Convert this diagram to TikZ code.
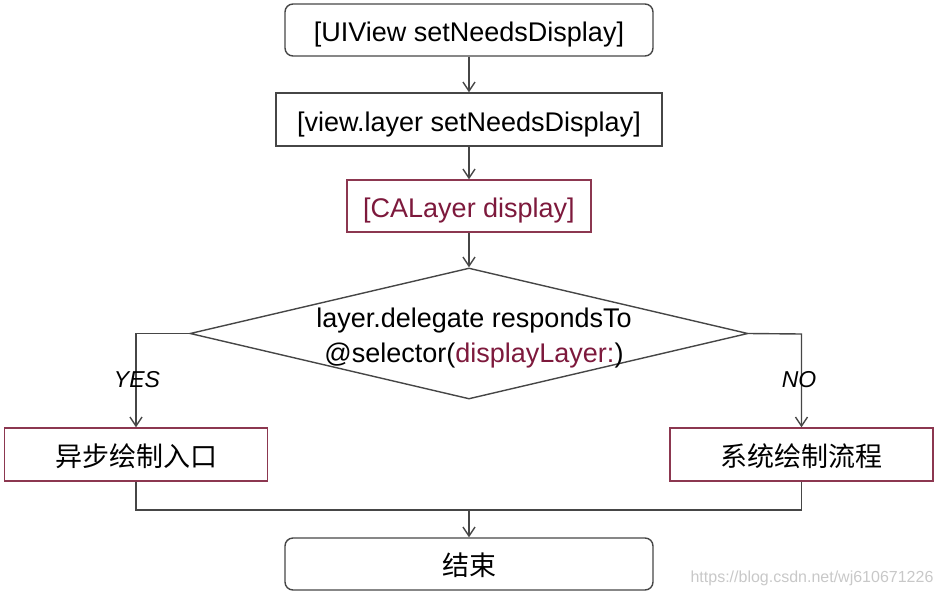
\documentclass[tikz,border=0pt]{standalone}
\usepackage{fontspec}
\setmainfont{Liberation Sans}
\newfontfamily\cjk{Noto Sans CJK SC}
\usetikzlibrary{arrows.meta,shapes.geometric}
\definecolor{linegray}{RGB}{70,70,70}
\definecolor{maroon}{RGB}{125,25,60}
\definecolor{redborder}{RGB}{140,55,80}
\definecolor{wmgray}{RGB}{200,200,200}
\tikzset{
  box/.style={draw=linegray, line width=1.4pt, minimum height=52pt, inner sep=0pt, text height=25pt, text depth=2pt, font=\fontsize{27}{30}\selectfont, text=black},
  roundbox/.style={box, rounded corners=8pt},
  redbox/.style={box, draw=redborder},
  conn/.style={draw=linegray, line width=1.4pt},
  arr/.style={conn, -{Straight Barb[length=9pt,width=12pt,line width=1.4pt]}},
  lbl/.style={font=\fontsize{23}{26}\selectfont\itshape, text=black}
}
\begin{document}
\begin{tikzpicture}[x=1pt,y=-1pt]
\useasboundingbox (0,0) rectangle (942,595);
\node[roundbox, minimum width=368pt] (b1) at (469,30) {[UIView setNeedsDisplay]};
\node[box, minimum width=386pt, minimum height=53pt] (b2) at (469,119.5) {[view.layer setNeedsDisplay]};
\node[redbox, minimum width=244pt, text=maroon] (b3) at (469,206) {[CALayer display]};
\node[draw=linegray, line width=1.4pt, shape=diamond, aspect=4.26, minimum width=558pt, minimum height=131pt, inner sep=0pt] (d) at (469,333.5) {};
\node[align=center, font=\fontsize{27}{35}\selectfont] (dt) at (474,338) {layer.delegate respondsTo\\@selector({\color{maroon}displayLayer:})};
\node[redbox, minimum width=263pt, minimum height=53pt, font=\fontsize{27}{30}\selectfont\cjk] (yes) at (136,454.5) {异步绘制入口};
\node[redbox, minimum width=263pt, minimum height=53pt, font=\fontsize{27}{30}\selectfont\cjk] (no) at (801.5,454.5) {系统绘制流程};
\node[roundbox, minimum width=368pt, font=\fontsize{27}{30}\selectfont\cjk] (end) at (469,564) {结束};
\coordinate (nr) at (801.5,334);
\coordinate (jl) at (136,510);
\coordinate (jr) at (801.5,510);
\coordinate (jm) at (469,510);
\draw[arr] (b1.south) -- (b2.north);
\draw[arr] (b2.south) -- (b3.north);
\draw[arr] (b3.south) -- (d.north);
\draw[arr] (d.west) -| (yes.north);
\draw[arr] (d.east) -- (nr) -- (nr |- no.north);
\draw[conn] (yes.south) -- (jl) -- (jr) -- (jr |- no.south);
\draw[arr] (jm) -- (end.north);
\node[lbl] (ly) at (137,380) {YES};
\node[lbl] (ln) at (799,380) {NO};
\node[font=\fontsize{16}{19}\selectfont, text=wmgray] (wm) at (812,578) {https://blog.csdn.net/wj610671226};
\end{tikzpicture}
\end{document}
